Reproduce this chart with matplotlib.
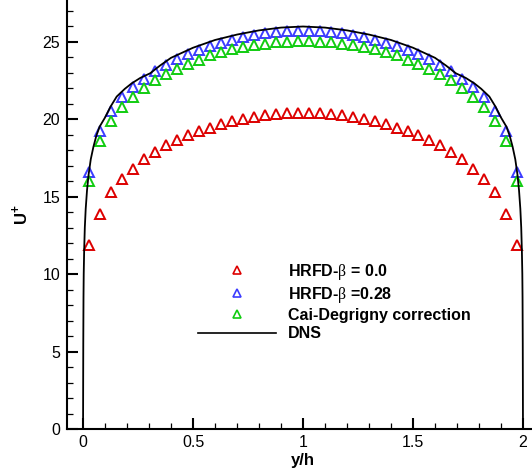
import numpy as np
import matplotlib
matplotlib.use("Agg")
from matplotlib import pyplot as plt
from matplotlib.lines import Line2D
from matplotlib.ticker import MultipleLocator

plt.rcParams['font.family'] = ['Liberation Sans', 'DejaVu Sans']
plt.rcParams['mathtext.fontset'] = 'custom'
plt.rcParams['mathtext.rm'] = 'Liberation Sans'
plt.rcParams['mathtext.bf'] = 'Liberation Sans:bold'
plt.rcParams['mathtext.sf'] = 'Liberation Serif'

# Sample locations across the channel (y/h) for the RANS runs
y_h = np.linspace(0.025, 1.975, 40)

u_beta0 = [11.9, 13.9, 15.3, 16.1, 16.8, 17.4, 17.9, 18.3, 18.65, 18.95,
           19.2, 19.45, 19.65, 19.85, 20.0, 20.15, 20.25, 20.33, 20.38, 20.42,
           20.42, 20.38, 20.34, 20.26, 20.15, 20.0, 19.85, 19.65, 19.45, 19.2,
           18.95, 18.65, 18.3, 17.9, 17.4, 16.8, 16.1, 15.3, 13.9, 11.9]

u_beta028 = [16.6, 19.2, 20.5, 21.4, 22.05, 22.6, 23.1, 23.5, 23.87, 24.2,
             24.45, 24.7, 24.92, 25.1, 25.27, 25.42, 25.53, 25.6, 25.66, 25.68,
             25.68, 25.66, 25.6, 25.53, 25.42, 25.27, 25.1, 24.92, 24.7, 24.45,
             24.2, 23.87, 23.5, 23.1, 22.6, 22.05, 21.4, 20.5, 19.2, 16.6]

u_cai = [16.0, 18.6, 19.9, 20.77, 21.45, 22.03, 22.5, 22.9, 23.2, 23.55,
         23.8, 24.1, 24.3, 24.5, 24.65, 24.77, 24.86, 24.95, 25.0, 25.03,
         25.03, 25.0, 24.95, 24.86, 24.77, 24.65, 24.5, 24.3, 24.1, 23.8,
         23.55, 23.2, 22.9, 22.5, 22.03, 21.45, 20.77, 19.9, 18.6, 16.0]

# DNS profile
dns_y = [0.0, 0.0005, 0.001, 0.002, 0.003, 0.005, 0.008, 0.012, 0.018, 0.025,
         0.035, 0.047, 0.06, 0.075, 0.1, 0.125, 0.153, 0.19, 0.221, 0.26,
         0.305, 0.35, 0.4, 0.5, 0.6, 0.7, 0.8, 0.9, 1.0,
         1.1, 1.2, 1.3, 1.4, 1.5, 1.6, 1.65, 1.695, 1.74, 1.779, 1.81,
         1.847, 1.875, 1.9, 1.925, 1.94, 1.953, 1.965, 1.975, 1.982, 1.988,
         1.992, 1.995, 1.997, 1.998, 1.999, 1.9995, 2.0]
dns_u = [0.0, 3.0, 5.5, 8.5, 10.0, 11.5, 13.0, 14.2, 15.4, 16.4,
         17.4, 18.2, 18.9, 19.5, 20.1, 20.8, 21.45, 21.95, 22.3, 22.65,
         22.95, 23.45, 23.95, 24.6, 25.1, 25.45, 25.72, 25.9, 25.97,
         25.9, 25.72, 25.45, 25.1, 24.6, 23.95, 23.45, 22.95, 22.65, 22.3, 21.95,
         21.45, 20.8, 20.1, 19.5, 18.9, 18.2, 17.4, 16.4, 15.4, 14.2,
         13.0, 11.5, 10.0, 8.5, 5.5, 3.0, 0.0]

labels = [r'HRFD-$\mathsf{\beta}$ = 0.0', r'HRFD-$\mathsf{\beta}$ =0.28',
          'Cai-Degrigny correction', 'DNS']
colors = ['#dd0000', '#3c3cff', '#11cc11']

fig = plt.figure(figsize=(5.32, 4.74), dpi=100)
ax = fig.add_axes([67 / 532, 45 / 474, 465 / 532, 429 / 474])

for u, c in zip([u_beta0, u_beta028, u_cai], colors):
    ax.plot(y_h, u, ls='none', marker='^', ms=6.5, mfc='none', mec=c, mew=1.4)
ax.plot(dns_y, dns_u, color='black', lw=1.3)

ax.set_xlim(-0.073, 2.041)
ax.set_ylim(0, 27.68)
ax.spines['top'].set_visible(False)
ax.spines['right'].set_visible(False)
for s in ['left', 'bottom']:
    ax.spines[s].set_linewidth(1.5)

ax.xaxis.set_major_locator(MultipleLocator(0.5))
ax.xaxis.set_minor_locator(MultipleLocator(0.1))
ax.yaxis.set_major_locator(MultipleLocator(5))
ax.yaxis.set_minor_locator(MultipleLocator(1))
ax.set_xticks([0, 0.5, 1, 1.5, 2], ['0', '0.5', '1', '1.5', '2'])
ax.tick_params(which='major', direction='in', length=8, width=1.5, labelsize=11.5)
ax.tick_params(axis='x', pad=4)
ax.tick_params(axis='y', pad=5)
ax.tick_params(which='minor', direction='in', length=4.3, width=0.9)
ax.tick_params(top=False, right=False, which='both')

ax.set_xlabel('y/h', fontsize=12, fontweight='bold')
ax.set_ylabel(r'U$^{\mathbf{+}}$', fontsize=12, fontweight='bold')
ax.xaxis.set_label_coords(0.508, -0.057)
ax.yaxis.set_label_coords(-0.08, 0.5)

handles = [Line2D([], [], ls='none', marker='^', ms=6, mfc='none', mec=c, mew=1.2) for c in colors]
handles.append(Line2D([], [], color='black', lw=1.2))
ax.legend(handles, labels, frameon=False, loc='upper left',
          bbox_to_anchor=(198 / 532, 1 - 262 / 474), bbox_transform=fig.transFigure,
          borderpad=0, borderaxespad=0, handlelength=4.9, handletextpad=0.75,
          labelspacing=0.19, prop={'weight': 'bold', 'size': 11.5})

fig.savefig('out.png', dpi=100)
